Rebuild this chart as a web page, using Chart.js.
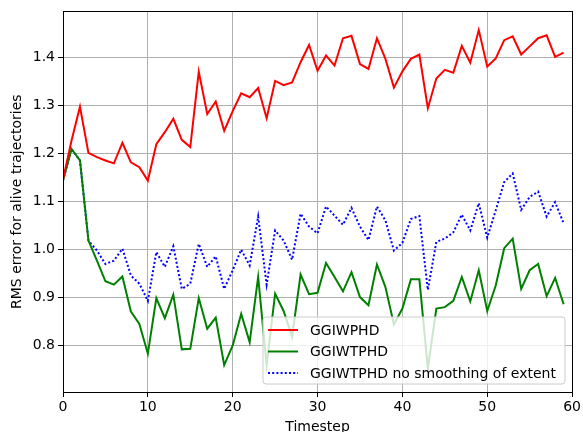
<!DOCTYPE html>
<html>
<head>
<meta charset="utf-8">
<script src="https://cdn.jsdelivr.net/npm/chart.js@4.4.1/dist/chart.umd.min.js"></script>
<style>
  html, body { margin: 0; padding: 0; background: #fff; }
  #wrap { width: 583px; height: 432px; }
</style>
</head>
<body>
<div id="wrap"><canvas id="myChart" width="583" height="432"></canvas></div>
<script>
// timesteps 0..59
var timesteps = [0,1,2,3,4,5,6,7,8,9,10,11,12,13,14,15,16,17,18,19,
20,21,22,23,24,25,26,27,28,29,30,31,32,33,34,35,36,37,38,39,
40,41,42,43,44,45,46,47,48,49,50,51,52,53,54,55,56,57,58,59];

var ggiwphd = [1.145,1.226,1.297,1.201,1.192,1.185,1.179,1.222,1.181,1.171,
1.143,1.219,1.244,1.272,1.228,1.213,1.370,1.282,1.308,1.247,
1.288,1.325,1.317,1.336,1.273,1.351,1.342,1.348,1.390,1.426,
1.372,1.404,1.383,1.440,1.445,1.386,1.376,1.440,1.397,1.337,
1.371,1.397,1.406,1.294,1.356,1.374,1.368,1.424,1.389,1.457,
1.381,1.398,1.436,1.444,1.406,1.423,1.440,1.446,1.401,1.410];

var ggiwtphd = [1.143,1.209,1.185,1.018,0.976,0.933,0.926,0.943,0.870,0.844,
0.782,0.898,0.856,0.905,0.791,0.792,0.898,0.834,0.857,0.758,
0.799,0.865,0.806,0.942,0.758,0.907,0.871,0.817,0.947,0.906,
0.909,0.971,0.942,0.912,0.952,0.900,0.883,0.968,0.921,0.843,
0.876,0.937,0.937,0.751,0.876,0.879,0.892,0.942,0.891,0.956,
0.871,0.924,1.002,1.022,0.917,0.956,0.969,0.902,0.940,0.885];

var noSmoothing = [1.143,1.209,1.185,1.018,0.997,0.969,0.976,1.001,0.945,0.928,
0.892,0.994,0.963,1.006,0.917,0.928,1.011,0.963,0.985,0.917,
0.956,0.999,0.966,1.068,0.926,1.039,1.018,0.978,1.074,1.047,
1.033,1.089,1.070,1.051,1.086,1.047,1.019,1.089,1.060,0.997,
1.013,1.063,1.069,0.915,1.015,1.022,1.035,1.072,1.039,1.096,
1.024,1.081,1.140,1.158,1.082,1.109,1.120,1.068,1.098,1.054];

var yTicks = [0.8, 0.9, 1.0, 1.1, 1.2, 1.3, 1.4];

function pts(arr) {
  return arr.map(function(v, i) { return {x: timesteps[i], y: v}; });
}

var fontFam = "'DejaVu Sans', sans-serif";

// frame on all four sides + legend box inside the plot
var framePlugin = {
  id: 'frame',
  afterDraw: function(chart) {
    var c = chart.ctx, a = chart.chartArea;
    c.save();
    c.strokeStyle = '#000';
    c.lineWidth = 1;
    c.strokeRect(Math.round(a.left) + 0.5, Math.round(a.top) + 0.5,
      Math.round(a.right - a.left), Math.round(a.bottom - a.top));

    // legend
    var bx = 263, by = 317, bw = 302, bh = 67, r = 3;
    c.beginPath();
    c.moveTo(bx + r, by);
    c.arcTo(bx + bw, by, bx + bw, by + bh, r);
    c.arcTo(bx + bw, by + bh, bx, by + bh, r);
    c.arcTo(bx, by + bh, bx, by, r);
    c.arcTo(bx, by, bx + bw, by, r);
    c.closePath();
    c.fillStyle = 'rgba(255,255,255,0.8)';
    c.fill();
    c.strokeStyle = '#cccccc';
    c.stroke();

    c.font = '14px ' + fontFam;
    c.textBaseline = 'middle';
    c.fillStyle = '#000';
    chart.data.datasets.forEach(function(ds, i) {
      var yy = 330 + i * 21.5;
      c.beginPath();
      c.setLineDash(ds.borderDash || []);
      c.strokeStyle = ds.borderColor;
      c.lineWidth = ds.borderWidth;
      c.moveTo(268, yy);
      c.lineTo(298, yy);
      c.stroke();
      c.setLineDash([]);
      c.fillText(ds.label, 310, yy + 1);
    });
    c.restore();
  }
};

var ctx = document.getElementById("myChart");
var myChart = new Chart(ctx, {
  type: 'line',
  data: {
    datasets: [
      {
        label: 'GGIWPHD',
        data: pts(ggiwphd),
        borderColor: '#ff0000',
        borderWidth: 2
      },
      {
        label: 'GGIWTPHD',
        data: pts(ggiwtphd),
        borderColor: '#008000',
        borderWidth: 2
      },
      {
        label: 'GGIWTPHD no smoothing of extent',
        data: pts(noSmoothing),
        borderColor: '#0000ff',
        borderWidth: 2,
        borderDash: [2, 2.2]
      }
    ]
  },
  options: {
    responsive: false,
    animation: false,
    elements: { point: { radius: 0 }, line: { tension: 0, fill: false } },
    layout: { padding: { top: 11, right: 6, left: 0, bottom: 0 } },
    plugins: { legend: { display: false }, tooltip: { enabled: false } },
    scales: {
      x: {
        type: 'linear',
        min: 0,
        max: 60,
        afterFit: function(s) { s.height = 40; },
        ticks: { stepSize: 10, color: '#000', padding: 2, font: { size: 14, family: fontFam } },
        grid: { color: '#b0b0b0', lineWidth: 1, tickLength: 5, tickColor: '#000' },
        border: { color: '#000', width: 1 },
        title: { display: true, text: 'Timestep', color: '#000', font: { size: 14, family: fontFam }, padding: { top: 0, bottom: -4 } }
      },
      y: {
        type: 'linear',
        min: 0.702,
        max: 1.496,
        afterFit: function(s) { s.width = 63; },
        afterBuildTicks: function(s) { s.ticks = yTicks.map(function(v) { return {value: v}; }); },
        ticks: { color: '#000', padding: 3, font: { size: 14, family: fontFam },
          callback: function(v) { return Number(v).toFixed(1); } },
        grid: { color: '#b0b0b0', lineWidth: 1, tickLength: 5, tickColor: '#000' },
        border: { color: '#000', width: 1 },
        title: { display: true, text: 'RMS error for alive trajectories', color: '#000', font: { size: 14, family: fontFam }, padding: { top: 9, bottom: 0 } }
      }
    }
  },
  plugins: [framePlugin]
});
</script>
</body>
</html>
